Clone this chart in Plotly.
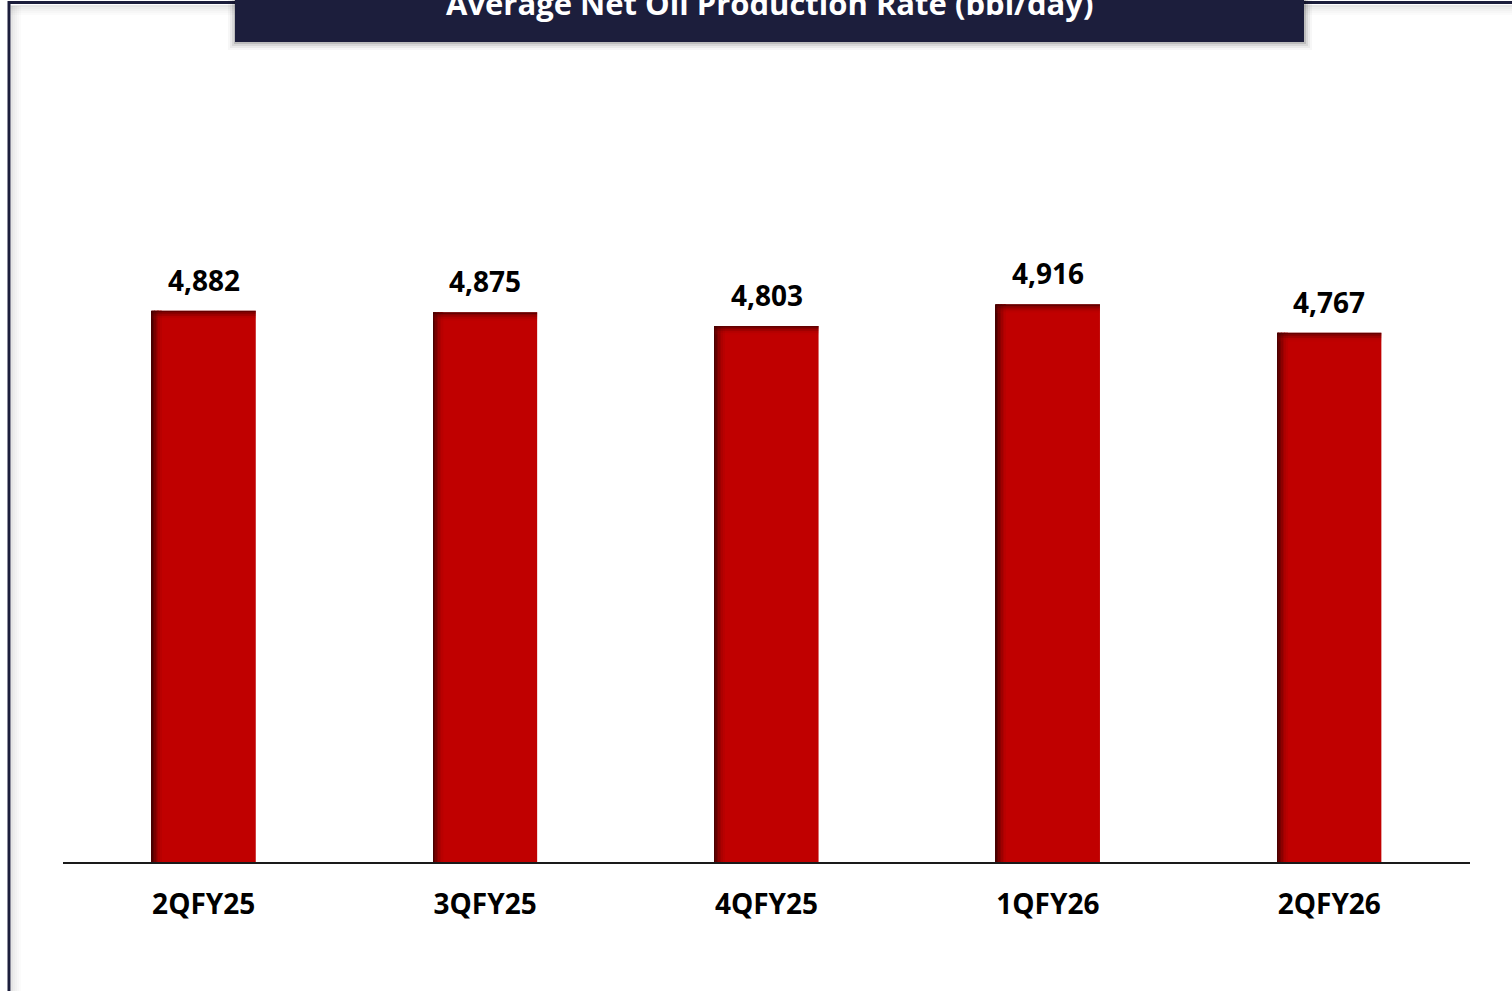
import plotly.graph_objects as go

# dados
trimestres = ["2QFY25", "3QFY25", "4QFY25", "1QFY26", "2QFY26"]
producao = [4882, 4875, 4803, 4916, 4767]
rotulos = ["4,882", "4,875", "4,803", "4,916", "4,767"]
titulo = "Average Net Oil Production Rate (bbl/day)"

VERMELHO = "#C00000"
AZUL = "#1C1E3C"
FONTE = "Open Sans"

larg_barra = 0.37
fig = go.Figure()

# barra principal
fig.add_trace(go.Bar(
    x=trimestres, y=producao, width=larg_barra,
    marker=dict(color=VERMELHO, line=dict(width=0)),
    hoverinfo="skip", showlegend=False,
))

# sombreamento interno (lado esquerdo) em tiras finas
tons_esq = ["#4a0000", "#620000", "#780000", "#8c0000", "#9e0000", "#ad0000", "#b80000"]
w_tira = 0.0052
for i, cor in enumerate(tons_esq):
    fig.add_trace(go.Bar(
        x=trimestres, y=producao, width=w_tira,
        offset=-larg_barra / 2 + i * w_tira,
        marker=dict(color=cor, line=dict(width=0)),
        hoverinfo="skip", showlegend=False,
    ))

# sombreamento interno (topo)
tons_topo = ["rgba(70,0,0,0.75)", "rgba(90,0,0,0.55)", "rgba(110,0,0,0.4)", "rgba(140,0,0,0.25)", "rgba(170,0,0,0.12)"]
h_tira = 9
for i, cor in enumerate(tons_topo):
    fig.add_trace(go.Bar(
        x=trimestres, y=[h_tira] * len(producao),
        base=[v - (i + 1) * h_tira for v in producao],
        width=larg_barra,
        marker=dict(color=cor, line=dict(width=0)),
        hoverinfo="skip", showlegend=False,
    ))

# rótulos de valor
for t, v, r in zip(trimestres, producao, rotulos):
    fig.add_annotation(
        x=t, y=v, text=r, showarrow=False, yanchor="bottom", yshift=10,
        font=dict(family=FONTE, size=28, color="black", weight="bold"),
    )

# moldura, caixa do título e sombras (coordenadas em papel)
L, R, T, B = 63, 1470, 97, 862
def px(xp):
    return (xp - L) / (R - L)
def py(yp):
    return (B - yp) / (B - T)

formas = []
# sombra interna da moldura
for k, a in enumerate([0.10, 0.07, 0.05, 0.03, 0.015]):
    formas.append(dict(type="line", xref="paper", yref="paper",
                       x0=px(12 + k * 2), x1=px(12 + k * 2), y0=py(6), y1=py(995),
                       line=dict(color=f"rgba(0,0,0,{a})", width=2)))
    formas.append(dict(type="line", xref="paper", yref="paper",
                       x0=px(10), x1=px(1515), y0=py(6 + k * 2), y1=py(6 + k * 2),
                       line=dict(color=f"rgba(0,0,0,{a})", width=2)))
# borda da moldura
formas.append(dict(type="line", xref="paper", yref="paper",
                   x0=px(9), x1=px(1515), y0=py(2.5), y1=py(2.5),
                   line=dict(color=AZUL, width=3)))
formas.append(dict(type="line", xref="paper", yref="paper",
                   x0=px(9), x1=px(9), y0=py(1), y1=py(995),
                   line=dict(color=AZUL, width=3)))
# sombra da caixa do título
for k, a in enumerate([0.12, 0.08, 0.05, 0.03]):
    formas.append(dict(type="rect", xref="paper", yref="paper",
                       x0=px(235 - 1 - k * 2), x1=px(1304 + 2 + k * 2),
                       y0=py(42 + 2 + k * 2), y1=py(-20),
                       fillcolor=f"rgba(0,0,0,{a})", line=dict(width=0)))
# caixa do título
formas.append(dict(type="rect", xref="paper", yref="paper",
                   x0=px(235), x1=px(1304), y0=py(42), y1=py(-20),
                   fillcolor=AZUL, line=dict(width=0)))

fig.update_layout(shapes=formas)

fig.add_annotation(
    xref="paper", yref="paper", x=px(769.5), y=py(3), text=titulo,
    showarrow=False, xanchor="center", yanchor="middle",
    font=dict(family=FONTE, size=31, color="white", weight="bold"),
)

fig.update_layout(
    barmode="overlay",
    width=1512, height=991,
    margin=dict(l=L, r=1512 - R, t=T, b=991 - B),
    paper_bgcolor="white", plot_bgcolor="white",
    xaxis=dict(
        showline=True, linecolor="#1a1a1a", linewidth=2,
        ticks="outside", ticklen=16, tickcolor="rgba(0,0,0,0)",
        tickfont=dict(family=FONTE, size=28, color="black", weight="bold"),
        showgrid=False, zeroline=False,
    ),
    yaxis=dict(range=[2000, 6000], visible=False, showgrid=False),
    font=dict(family=FONTE),
)

# tira a margem padrão do <body> para o gráfico ocupar a janela toda
fig.write_html(
    "out.html",
    config={"displayModeBar": False},
    post_script="document.body.style.margin='0';document.body.style.overflow='hidden';",
)
